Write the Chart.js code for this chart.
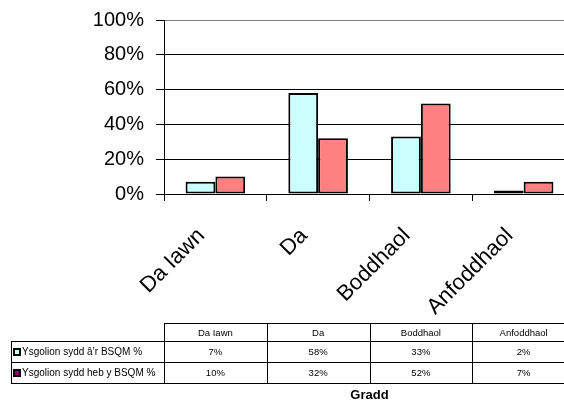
<!DOCTYPE html>
<html>
<head>
<meta charset="utf-8">
<script src="https://cdn.jsdelivr.net/npm/chart.js@4/dist/chart.umd.min.js"></script>
<style>
  html, body { margin: 0; padding: 0; background: #fff; overflow: hidden; }
  #wrap { width: 564px; height: 403px; overflow: hidden; position: relative; }
  canvas { display: block; }
</style>
</head>
<body>
<div id="wrap"><canvas id="c" width="580" height="403"></canvas></div>
<script>
const categories = ['Da Iawn', 'Da', 'Boddhaol', 'Anfoddhaol'];
const seriesNames = ['Ysgolion sydd \u00e2\u2019r BSQM %', 'Ysgolion sydd heb y BSQM %'];
const withBSQM = [7, 58, 33, 2];
const withoutBSQM = [10, 32, 52, 7];
const yTicks = [0, 20, 40, 60, 80, 100];
const axisTitle = 'Gradd';

const FONT = "'Liberation Sans', Arial, sans-serif";
const fillColors = ['#CCFFFF', '#FF8080'];
const keyColors = ['#CCFFFF', '#800080'];

const tablePlugin = {
  id: 'dataTable',
  afterDraw(chart) {
    const ctx = chart.ctx;
    const xs = chart.scales.x;
    const area = chart.chartArea;
    const half = (xs.getPixelForValue(1) - xs.getPixelForValue(0)) / 2;
    const leftEdge = 11;
    const rowsY = [323, 341, 362, 383];
    const right = xs.getPixelForValue(categories.length - 1) + half;
    ctx.save();
    ctx.strokeStyle = '#000';
    ctx.lineWidth = 1;
    ctx.beginPath();
    ctx.moveTo(area.left, rowsY[0] + 0.5); ctx.lineTo(right, rowsY[0] + 0.5);
    for (let r = 1; r < rowsY.length; r++) {
      ctx.moveTo(leftEdge, rowsY[r] + 0.5); ctx.lineTo(right, rowsY[r] + 0.5);
    }
    ctx.moveTo(leftEdge + 0.5, rowsY[1]); ctx.lineTo(leftEdge + 0.5, rowsY[3] + 1);
    for (let i = 0; i <= categories.length; i++) {
      const bx = Math.round(xs.getPixelForValue(0) - half + i * 2 * half) + 0.5;
      ctx.moveTo(bx, rowsY[0]); ctx.lineTo(bx, rowsY[3] + 1);
    }
    ctx.stroke();

    ctx.fillStyle = '#000';
    ctx.textBaseline = 'middle';
    ctx.textAlign = 'center';
    ctx.font = '9.5px ' + FONT;
    const headerY = (rowsY[0] + rowsY[1]) / 2 + 1;
    categories.forEach((c, i) => ctx.fillText(c, xs.getPixelForValue(i), headerY));
    const seriesData = [withBSQM, withoutBSQM];
    seriesData.forEach((arr, s) => {
      const cy = (rowsY[s + 1] + rowsY[s + 2]) / 2 + 1;
      arr.forEach((v, i) => ctx.fillText(v + '%', xs.getPixelForValue(i), cy));
      ctx.fillStyle = '#000';
      ctx.fillRect(13, Math.round(cy) - 5, 8, 8);
      ctx.fillStyle = keyColors[s];
      ctx.fillRect(15, Math.round(cy) - 3, 4, 4);
      ctx.fillStyle = '#000';
      ctx.textAlign = 'left';
      ctx.font = '10px ' + FONT;
      ctx.fillText(seriesNames[s], 22, cy);
      ctx.textAlign = 'center';
      ctx.font = '9.5px ' + FONT;
    });

    ctx.font = 'bold 13px ' + FONT;
    ctx.textAlign = 'center';
    ctx.fillText(axisTitle, (area.left + right) / 2, 395);
    ctx.restore();
  }
};

new Chart(document.getElementById('c'), {
  type: 'bar',
  data: {
    labels: categories,
    datasets: [
      { label: seriesNames[0], data: withBSQM, backgroundColor: fillColors[0], borderColor: '#000', borderWidth: 2, borderSkipped: false },
      { label: seriesNames[1], data: withoutBSQM, backgroundColor: fillColors[1], borderColor: '#000', borderWidth: 2, borderSkipped: false }
    ]
  },
  options: {
    responsive: false,
    animation: false,
    devicePixelRatio: 1,
    layout: { padding: { top: 20, right: 5, left: 0, bottom: 0 } },
    plugins: { legend: { display: false }, tooltip: { enabled: false } },
    datasets: { bar: { categoryPercentage: 0.58, barPercentage: 1.0 } },
    scales: {
      x: {
        grid: { display: true, drawOnChartArea: false, drawTicks: true, tickLength: 7, color: '#000', offset: true },
        border: { display: true, color: '#000', width: 1 },
        ticks: {
          color: '#000',
          font: { family: FONT, size: 22 },
          minRotation: 45, maxRotation: 45,
          autoSkip: false,
          padding: 22,
          labelOffset: -14
        },
        afterFit(scale) { scale.height = 209; scale.paddingLeft = 0; scale.paddingRight = 0; }
      },
      y: {
        min: 0, max: 100,
        afterBuildTicks(scale) { scale.ticks = yTicks.map(v => ({ value: v })); },
        grid: {
          color: (c) => (c.tick && c.tick.value === 100 ? '#808080' : '#000'),
          tickColor: '#000',
          tickLength: 8,
          lineWidth: 1
        },
        border: { display: true, color: '#000', width: 1 },
        ticks: {
          color: '#000',
          font: { family: FONT, size: 20 },
          padding: 12,
          callback: (v) => v + '%'
        },
        afterFit(scale) { scale.width = 164; scale.paddingTop = 0; scale.paddingBottom = 0; }
      }
    }
  },
  plugins: [tablePlugin]
});
</script>
</body>
</html>
